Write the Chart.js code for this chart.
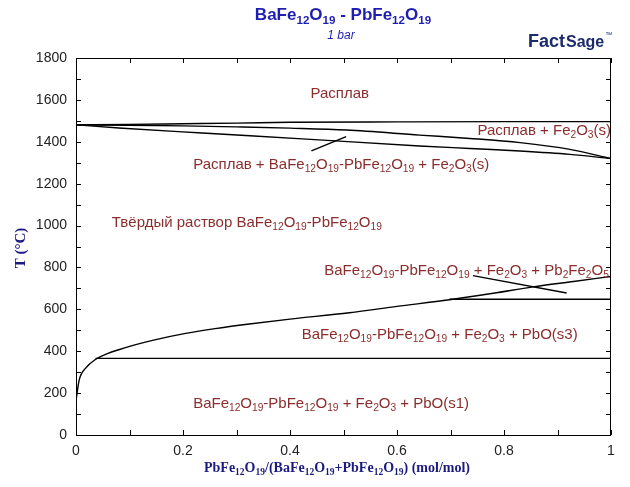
<!DOCTYPE html>
<html>
<head>
<meta charset="utf-8">
<script src="https://cdn.jsdelivr.net/npm/chart.js@4.4.0/dist/chart.umd.min.js"></script>
<style>
  html, body { margin: 0; padding: 0; background: #fff; }
  #wrap { width: 630px; height: 487px; }
</style>
</head>
<body>
<div id="wrap"><canvas id="diagrama" width="630" height="487"></canvas></div>
<script>
// Фазовая диаграмма BaFe12O19 - PbFe12O19, x = мольная доля PbFe12O19, T в °C
const liquidusX = [0, 0.1, 0.2, 0.3, 0.4, 0.6, 0.8, 1];
const liquidusT = [1481, 1483, 1486, 1489, 1493, 1495, 1496, 1496];

const fe2o3X = [0, 0.1, 0.2, 0.3, 0.4, 0.506, 0.642, 0.736, 0.83, 0.923, 1];
const fe2o3T = [1481, 1479, 1476, 1471, 1465, 1456, 1432, 1416, 1396, 1364, 1320];

const solidusX = [0, 0.08, 0.236, 0.423, 0.642, 0.736, 0.83, 0.923, 1];
const solidusT = [1481, 1466, 1442, 1414, 1380, 1368, 1356, 1340, 1320];

const pboX = [0, 0.006, 0.018, 0.037, 0.06, 0.08, 0.11, 0.143, 0.205, 0.26, 0.324, 0.4, 0.511, 0.6, 0.698, 0.78, 0.854, 0.93, 1];
const pboT = [165, 263, 319, 362, 390, 407, 430, 452, 485, 508, 530, 553, 584, 614, 646, 677, 707, 733, 757];

const eutX = [0.037, 1];
const eutT = [366, 366];

const perX = [0.698, 1];
const perT = [648, 648];

// линии-указатели к подписям
const pointer1X = [0.44, 0.505];
const pointer1T = [1357, 1425];
const pointer2X = [0.742, 0.917];
const pointer2T = [761, 678];

const xTicks = [0, 0.1, 0.2, 0.3, 0.4, 0.5, 0.6, 0.7, 0.8, 0.9, 1];
const yTicks = [0, 100, 200, 300, 400, 500, 600, 700, 800, 900, 1000, 1100, 1200, 1300, 1400, 1500, 1600, 1700, 1800];

// подписи областей (_{..} = нижний индекс)
const podpisi = [
  'Расплав',
  'Расплав + Fe_{2}O_{3}(s)',
  'Расплав + BaFe_{12}O_{19}-PbFe_{12}O_{19} + Fe_{2}O_{3}(s)',
  'Твёрдый раствор BaFe_{12}O_{19}-PbFe_{12}O_{19}',
  'BaFe_{12}O_{19}-PbFe_{12}O_{19} + Fe_{2}O_{3} + Pb_{2}Fe_{2}O_{5}',
  'BaFe_{12}O_{19}-PbFe_{12}O_{19} + Fe_{2}O_{3} + PbO(s3)',
  'BaFe_{12}O_{19}-PbFe_{12}O_{19} + Fe_{2}O_{3} + PbO(s1)'
];
const podpisiX = [0.493, 1.0, 0.219, 0.067, 0.464, 0.422, 0.219];
const podpisiT = [1633, 1458, 1293, 1017, 790, 482, 153];
const podpisiAlign = ['center', 'right', 'left', 'left', 'left', 'left', 'left'];

function toPoints(xs, ys) {
  return xs.map((x, i) => ({ x: x, y: ys[i] }));
}

function linia(xs, ys, smooth) {
  return {
    data: toPoints(xs, ys),
    showLine: true,
    borderColor: '#000',
    borderWidth: 1.4,
    pointRadius: 0,
    fill: false,
    cubicInterpolationMode: smooth ? 'monotone' : 'default',
    tension: 0
  };
}

// рисует текст с нижними индексами
function drawRich(ctx, text, x, y, size, align, family, weight, color) {
  const parts = [];
  const re = /_\{([^}]*)\}/g;
  let last = 0, m;
  while ((m = re.exec(text)) !== null) {
    if (m.index > last) parts.push({ t: text.slice(last, m.index), sub: false });
    parts.push({ t: m[1], sub: true });
    last = re.lastIndex;
  }
  if (last < text.length) parts.push({ t: text.slice(last), sub: false });

  const fMain = weight + ' ' + size + 'px ' + family;
  const fSub = weight + ' ' + (size * 0.68).toFixed(1) + 'px ' + family;
  let total = 0;
  parts.forEach(p => {
    ctx.font = p.sub ? fSub : fMain;
    p.w = ctx.measureText(p.t).width;
    total += p.w;
  });
  let cx = x;
  if (align === 'center') cx = x - total / 2;
  else if (align === 'right') cx = x - total;
  ctx.fillStyle = color;
  ctx.textAlign = 'left';
  ctx.textBaseline = 'alphabetic';
  parts.forEach(p => {
    ctx.font = p.sub ? fSub : fMain;
    ctx.fillText(p.t, cx, p.sub ? y + size * 0.22 : y);
    cx += p.w;
  });
}

const oformlenie = {
  id: 'oformlenie',
  afterDatasetsDraw(chart) {
    const ctx = chart.ctx;
    const a = chart.chartArea;
    const xs = chart.scales.x, ys = chart.scales.y;
    ctx.save();
    ctx.beginPath();
    ctx.rect(a.left, a.top, a.right - a.left, a.bottom - a.top);
    ctx.clip();
    podpisi.forEach((t, i) => {
      const px = xs.getPixelForValue(podpisiX[i]);
      const py = ys.getPixelForValue(podpisiT[i]) + 5;
      drawRich(ctx, t, px, py, 15, podpisiAlign[i], 'Arial, "Liberation Sans", sans-serif', 'normal', '#8b2d2d');
    });
    ctx.restore();
  },
  afterDraw(chart) {
    const ctx = chart.ctx;
    const a = chart.chartArea;
    const xs = chart.scales.x, ys = chart.scales.y;
    ctx.save();
    // рамка
    ctx.strokeStyle = '#000';
    ctx.lineWidth = 1;
    ctx.strokeRect(a.left + 0.5, a.top + 0.5, a.right - a.left - 1, a.bottom - a.top);
    // засечки внутрь
    ctx.beginPath();
    xTicks.forEach(v => {
      const px = Math.round(xs.getPixelForValue(v)) + 0.5;
      ctx.moveTo(px, a.bottom); ctx.lineTo(px, a.bottom - 5);
      ctx.moveTo(px, a.top); ctx.lineTo(px, a.top + 5);
    });
    yTicks.forEach(v => {
      const py = Math.round(ys.getPixelForValue(v)) + 0.5;
      ctx.moveTo(a.left, py); ctx.lineTo(a.left + 5, py);
      ctx.moveTo(a.right, py); ctx.lineTo(a.right - 5, py);
    });
    ctx.stroke();

    // заголовок
    drawRich(ctx, 'BaFe_{12}O_{19} - PbFe_{12}O_{19}', 343, 20, 17, 'center', 'Arial, "Liberation Sans", sans-serif', 'bold', '#1e1eb0');
    ctx.font = 'italic 12px Arial, "Liberation Sans", sans-serif';
    ctx.fillStyle = '#1e1eb0';
    ctx.textAlign = 'center';
    ctx.fillText('1 bar', 341, 39);

    // логотип
    ctx.fillStyle = '#1b2a6b';
    ctx.textAlign = 'left';
    ctx.font = 'bold 18px Arial, "Liberation Sans", sans-serif';
    ctx.fillText('Fact', 528, 47);
    const wFact = ctx.measureText('Fact').width;
    ctx.font = 'bold 16px "Liberation Sans Narrow", Arial, sans-serif';
    ctx.fillText('Sage', 528 + wFact + 1, 47);
    const wSage = ctx.measureText('Sage').width;
    ctx.font = '7px Arial, "Liberation Sans", sans-serif';
    ctx.fillText('™', 528 + wFact + wSage + 2, 37);

    // подписи осей
    drawRich(ctx, 'PbFe_{12}O_{19}/(BaFe_{12}O_{19}+PbFe_{12}O_{19}) (mol/mol)', 337, 472, 14, 'center', '"Liberation Serif", "Times New Roman", serif', 'bold', '#1a1a80');
    ctx.translate(25, 248);
    ctx.rotate(-Math.PI / 2);
    drawRich(ctx, 'T (°C)', 0, 0, 15, 'center', '"Liberation Serif", "Times New Roman", serif', 'bold', '#1a1a80');
    ctx.restore();
  }
};

const ctx = document.getElementById('diagrama').getContext('2d');
const grafico = new Chart(ctx, {
  type: 'scatter',
  data: {
    datasets: [
      linia(liquidusX, liquidusT, true),
      linia(fe2o3X, fe2o3T, true),
      linia(solidusX, solidusT, true),
      linia(pboX, pboT, true),
      linia(eutX, eutT, false),
      linia(perX, perT, false),
      linia(pointer1X, pointer1T, false),
      linia(pointer2X, pointer2T, false)
    ]
  },
  options: {
    responsive: false,
    animation: false,
    layout: { padding: { left: 0, top: 58, right: 19, bottom: 0 } },
    plugins: { legend: { display: false }, tooltip: { enabled: false }, title: { display: false } },
    scales: {
      x: {
        type: 'linear', min: 0, max: 1,
        grid: { display: false, drawTicks: false },
        border: { display: false },
        ticks: {
          stepSize: 0.2, padding: 8, color: '#222',
          font: { family: 'Arial, "Liberation Sans", sans-serif', size: 14 },
          callback: v => String(Math.round(v * 10) / 10)
        },
        afterFit(scale) { scale.height = 52; }
      },
      y: {
        type: 'linear', min: 0, max: 1800,
        grid: { display: false, drawTicks: false },
        border: { display: false },
        ticks: {
          stepSize: 200, padding: 9, color: '#222',
          font: { family: 'Arial, "Liberation Sans", sans-serif', size: 14 },
          callback: v => String(v)
        },
        afterFit(scale) { scale.width = 76; }
      }
    }
  },
  plugins: [oformlenie]
});
</script>
</body>
</html>
